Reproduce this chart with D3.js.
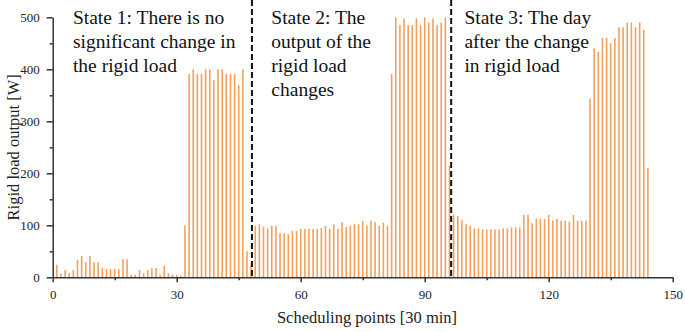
<!DOCTYPE html>
<html>
<head>
<meta charset="utf-8">
<script src="https://cdn.jsdelivr.net/npm/d3@7"></script>
<style>
    body { margin: 0; background: #fff; }
</style>
</head>
<body>
<div id="chart"></div>
<script>
// rigid load output at each scheduling point (1..144)
const loadValues = [
    24, 7, 14, 8, 14, 33, 41, 29, 41, 29, 29, 18, 16, 16, 16, 16, 35, 35, 5, 5,
    14, 8, 14, 18, 18, 5, 22, 8, 5, 5, 3, 100, 391, 400, 391, 391, 400, 400, 379, 400,
    400, 391, 391, 391, 370, 400, 50, 24, 99, 102, 97, 94, 99, 99, 85, 85, 83, 89, 89, 93,
    93, 93, 93, 93, 95, 99, 93, 102, 93, 106, 97, 99, 102, 102, 109, 99, 109, 106, 99, 105,
    99, 391, 500, 485, 498, 485, 485, 498, 485, 500, 490, 498, 485, 490, 500, 214, 120, 118, 110, 103,
    99, 94, 94, 92, 92, 92, 92, 92, 94, 94, 96, 96, 96, 120, 120, 104, 113, 112, 112, 120,
    109, 112, 109, 109, 107, 120, 109, 109, 109, 344, 440, 434, 460, 460, 450, 460, 481, 481, 490, 490,
    481, 490, 476, 210
];
const schedulingPoints = loadValues.map((v, i) => i + 1);

const xTicks = [0, 30, 60, 90, 120, 150];
const xMinorTicks = [15, 45, 75, 105, 135];
const yTicks = [0, 100, 200, 300, 400, 500];
const yMinorTicks = [50, 150, 250, 350, 450];

// state boundaries (dashed lines) and the text of each state
const stateDividers = [48.2, 96.4];
const stateStarts = [4.9, 52.9, 99.6];
const stateLabels = [
    ["State 1: There is no", "significant change in", "the rigid load"],
    ["State 2: The", "output of the", "rigid load", "changes"],
    ["State 3: The day", "after the change", "in rigid load"]
];

const width = 685, height = 332;
const margin = { left: 52.7, right: 12.3, top: 17.3, bottom: 54.7 };
const barColor = "#f4a15e";
const axisColor = "#333";
const serif = "'Times New Roman', 'Liberation Serif', 'DejaVu Serif', serif";

const svg = d3.select("#chart").append("svg")
    .attr("width", width)
    .attr("height", height);

const x = d3.scaleLinear()
    .domain([0, 150])
    .range([margin.left, width - margin.right]);

const y = d3.scaleLinear()
    .domain([0, 500])
    .range([height - margin.bottom, margin.top]);

// bars (thin sticks)
svg.append("g")
    .selectAll("rect")
    .data(loadValues)
    .enter().append("rect")
    .attr("x", (d, i) => x(schedulingPoints[i]) - 0.8)
    .attr("y", d => y(d))
    .attr("width", 1.6)
    .attr("height", d => y(0) - y(d))
    .attr("fill", barColor);

// dashed dividers
svg.append("g")
    .selectAll("line")
    .data(stateDividers)
    .enter().append("line")
    .attr("x1", d => x(d))
    .attr("x2", d => x(d))
    .attr("y1", 0)
    .attr("y2", y(0))
    .attr("stroke", "#111")
    .attr("stroke-width", 2)
    .attr("stroke-dasharray", "6,3");

// state texts
stateLabels.forEach((lines, s) => {
    const t = svg.append("text")
        .attr("x", x(stateStarts[s]))
        .attr("y", 24)
        .attr("fill", "#111")
        .style("font-family", serif)
        .style("font-size", "19.5px");
    lines.forEach((line, i) => {
        t.append("tspan")
            .attr("x", x(stateStarts[s]))
            .attr("y", 24 + i * 24)
            .text(line);
    });
});

// x axis
const xAxis = svg.append("g")
    .attr("transform", `translate(0,${y(0)})`);

xAxis.append("g")
    .call(d3.axisBottom(x).tickValues(xMinorTicks).tickSize(3).tickFormat(""))
    .call(g => g.select(".domain").remove());

xAxis.append("g")
    .call(d3.axisBottom(x).tickValues(xTicks).tickSize(5).tickSizeOuter(0).tickPadding(7));

// y axis
const yAxis = svg.append("g")
    .attr("transform", `translate(${x(0)},0)`);

yAxis.append("g")
    .call(d3.axisLeft(y).tickValues(yMinorTicks).tickSize(3).tickFormat(""))
    .call(g => g.select(".domain").remove());

yAxis.append("g")
    .call(d3.axisLeft(y).tickValues(yTicks).tickSize(6).tickSizeOuter(0).tickPadding(7));

[xAxis, yAxis].forEach(ax => {
    ax.selectAll("line").attr("stroke", axisColor).attr("stroke-width", 1.5);
    ax.selectAll(".domain").attr("stroke", axisColor).attr("stroke-width", 1.5);
    ax.selectAll("text")
        .attr("fill", "#222")
        .style("font-family", serif)
        .style("font-size", "13px");
});

// axis titles
svg.append("text")
    .attr("x", 367)
    .attr("y", 323)
    .attr("text-anchor", "middle")
    .attr("fill", "#222")
    .style("font-family", serif)
    .style("font-size", "16.5px")
    .text("Scheduling points [30 min]");

svg.append("text")
    .attr("transform", `translate(19,${(y(0) + y(500)) / 2}) rotate(-90)`)
    .attr("text-anchor", "middle")
    .attr("fill", "#222")
    .style("font-family", serif)
    .style("font-size", "16.5px")
    .text("Rigid load output [W]");
</script>
</body>
</html>
